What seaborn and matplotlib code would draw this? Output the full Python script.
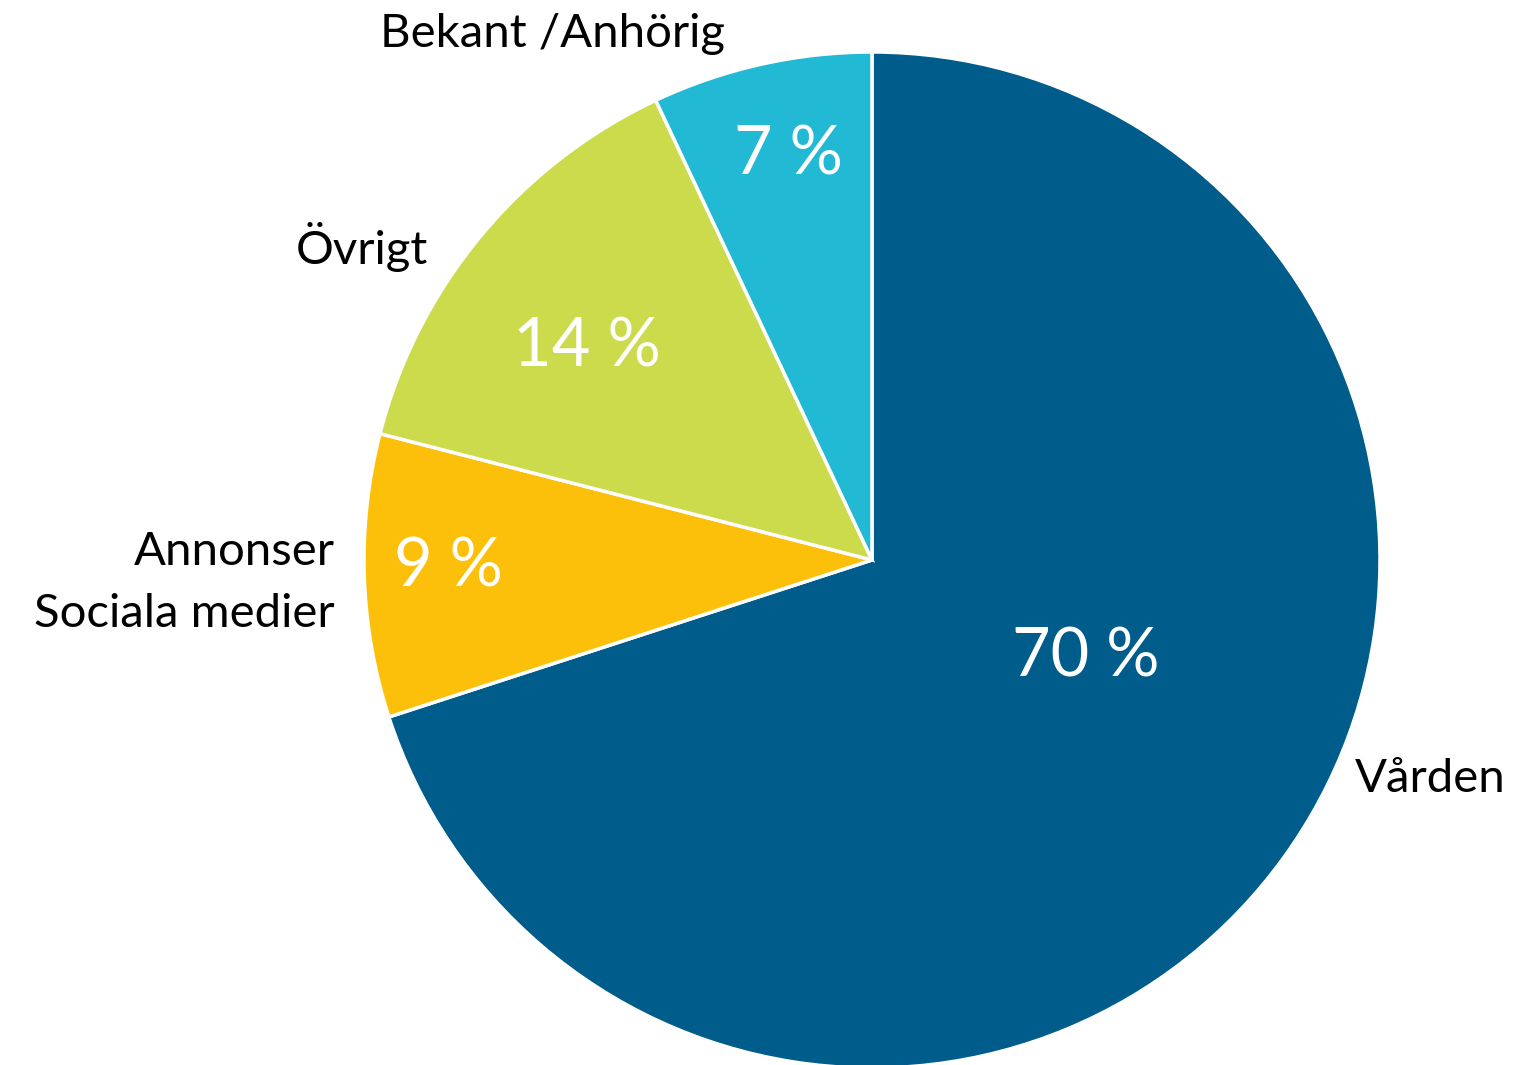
import matplotlib
matplotlib.use("Agg")
import matplotlib.pyplot as plt
import seaborn as sns

# data (clockwise from 12 o'clock)
categories = ["Vården", "Annonser\nSociala medier", "Övrigt", "Bekant /Anhörig"]
shares = [70, 9, 14, 7]
pct_labels = ["70 %", "9 %", "14 %", "7 %"]
colors = ["#005C8A", "#FDC00A", "#CCDB4B", "#22B9D4"]

sns.set_theme(style="white")
plt.rcParams["font.family"] = ["Lato", "DejaVu Sans"]

fig = plt.figure(figsize=(15.14, 10.65), dpi=100)
ax = fig.add_axes([0, 0, 1, 1])

wedges, texts, autotexts = ax.pie(
    shares,
    labels=categories,
    colors=colors,
    startangle=90,
    counterclock=False,
    autopct=lambda p: "",
    wedgeprops=dict(edgecolor="white", linewidth=2.5),
    textprops=dict(fontsize=34, color="black"),
)

# pie centre sits at pixel (872, 560), radius 508 px
R = 508
ax.set_aspect("auto")
ax.set_xlim(-872 / R, (1514 - 872) / R)
ax.set_ylim(-(1065 - 560) / R, 560 / R)
ax.axis("off")

# outside labels, placed like the original
label_pos = [(0.951, -0.432, "left"), (-1.057, -0.045, "right"),
             (-0.874, 0.616, "right"), (-0.628, 1.036, "center")]
for t, (x, y, ha) in zip(texts, label_pos):
    t.set_position((x, y))
    t.set_ha(ha)
    t.set_va("center")
    t.set_linespacing(1.6)

pct_pos = [(0.421, -0.191), (-0.833, -0.014), (-0.561, 0.419), (-0.165, 0.797)]
for t, lab, (x, y) in zip(autotexts, pct_labels, pct_pos):
    t.set_text(lab)
    t.set_position((x, y))
    t.set_fontsize(48)
    t.set_color("white")
    t.set_ha("center")
    t.set_va("center")

fig.savefig("out.png", dpi=100, facecolor="white")
